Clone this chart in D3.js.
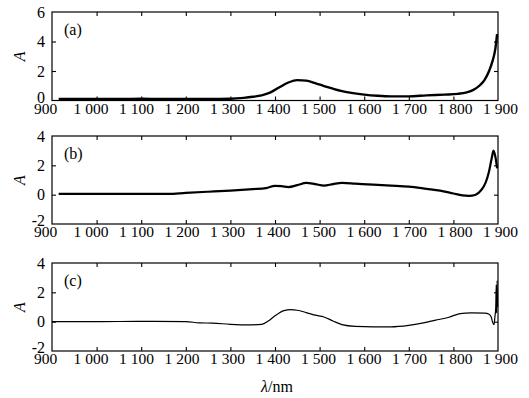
<!DOCTYPE html>
<html><head><meta charset="utf-8">
<script src="https://cdn.jsdelivr.net/npm/d3@7/dist/d3.min.js"></script>
<style>
html,body{margin:0;padding:0;background:#fff;}
svg{display:block;}
svg text{font-family:'Liberation Serif','Times New Roman','DejaVu Serif',serif !important;fill:#000;}
</style></head>
<body>
<svg id="chart" width="529" height="398"></svg>
<script>
// ---- data ----
const xTicks = [900,1000,1100,1200,1300,1400,1500,1600,1700,1800,1900];
const panelLabels = ["(a)","(b)","(c)"];
const yTicksA = [0,2,4,6];
const yTicksBC = [-2,0,2,4];

const wlA = [915,950,1000,1050,1100,1150,1200,1250,1300,1330,1350,1370,1390,1410,1430,1450,1470,1490,1510,1530,1550,1575,1600,1630,1660,1700,1740,1780,1810,1830,1845,1860,1870,1880,1888,1894,1898];
const valA = [0.1,0.1,0.1,0.1,0.12,0.1,0.1,0.1,0.12,0.18,0.25,0.35,0.55,0.9,1.22,1.38,1.35,1.18,0.98,0.8,0.64,0.5,0.4,0.32,0.28,0.28,0.35,0.4,0.45,0.55,0.72,1.05,1.4,2.0,2.7,3.5,4.5];

const wlB = [915,1000,1100,1160,1200,1250,1300,1350,1380,1400,1415,1430,1450,1470,1490,1510,1530,1550,1580,1620,1660,1700,1740,1770,1800,1820,1835,1850,1862,1872,1880,1886,1890,1894,1898];
const valB = [0.05,0.05,0.05,0.05,0.12,0.2,0.28,0.38,0.45,0.6,0.58,0.52,0.65,0.8,0.72,0.62,0.72,0.8,0.75,0.68,0.62,0.55,0.4,0.28,0.08,-0.05,-0.08,0.0,0.3,0.8,1.6,2.5,3.0,2.6,1.8];

const wlC = [900,1000,1100,1200,1230,1260,1300,1340,1370,1385,1400,1420,1435,1450,1470,1490,1510,1530,1550,1580,1620,1660,1700,1730,1760,1790,1815,1840,1870,1880,1885,1888,1891,1893,1895,1896,1897,1898,1899];
const valC = [0,0,0.02,0,-0.08,-0.1,-0.18,-0.22,-0.18,0.05,0.4,0.75,0.82,0.78,0.62,0.45,0.32,0.05,-0.2,-0.32,-0.35,-0.35,-0.25,-0.1,0.1,0.3,0.55,0.6,0.58,0.5,0.3,-0.05,-0.2,0.3,1.0,2.5,0.6,2.8,1.0];

// ---- layout ----
const svg = d3.select("#chart");
const FONT = "'Liberation Serif','Times New Roman','DejaVu Serif',serif";
const left = 52, right = 498;
const panels = [
  {top:12,  bottom:100.5, domain:[0,6],  ticks:yTicksA,  wl:wlA, val:valA, lw:2.4, label:panelLabels[0]},
  {top:136, bottom:224,   domain:[-2,4], ticks:yTicksBC, wl:wlB, val:valB, lw:2.2, label:panelLabels[1]},
  {top:263, bottom:351,   domain:[-2,4], ticks:yTicksBC, wl:wlC, val:valC, lw:1.2, label:panelLabels[2]}
];
const x = d3.scaleLinear().domain([900,1900]).range([left,right]);
const xLab = d3.scaleLinear().domain([900,1900]).range([45,500]);
const fmt = d => d >= 1000 ? "1 " + String(d).slice(1) : String(d);
const inner = xTicks.filter(t => t > 900 && t < 1900);

panels.forEach(p => {
  const y = d3.scaleLinear().domain(p.domain).range([p.bottom, p.top]);
  const g = svg.append("g");
  const innerY = p.ticks.filter(t => t > p.domain[0] && t < p.domain[1]);

  // inward ticks
  g.append("g").attr("transform",`translate(0,${p.bottom})`)
    .call(d3.axisBottom(x).tickValues(inner).tickSize(-4).tickFormat(""))
    .call(s => s.select(".domain").remove());
  g.append("g").attr("transform",`translate(0,${p.top})`)
    .call(d3.axisTop(x).tickValues(inner).tickSize(-4).tickFormat(""))
    .call(s => s.select(".domain").remove());
  g.append("g").attr("transform",`translate(${left},0)`)
    .call(d3.axisLeft(y).tickValues(innerY).tickSize(-4).tickFormat(""))
    .call(s => s.select(".domain").remove());
  g.append("g").attr("transform",`translate(${right},0)`)
    .call(d3.axisRight(y).tickValues(innerY).tickSize(-4).tickFormat(""))
    .call(s => s.select(".domain").remove());
  g.selectAll(".tick line").attr("stroke","#000").attr("stroke-width",1.1);

  // y labels
  const ya = g.append("g").attr("transform",`translate(${left},0)`)
    .call(d3.axisLeft(y).tickValues(p.ticks).tickSize(0).tickPadding(7).tickFormat(d => String(d)))
    .call(s => s.select(".domain").remove())
    .attr("font-family", FONT);
  ya.selectAll("text").attr("font-size",16).style("font-family",FONT)
    .attr("dy", d => d === p.domain[0] ? "0.1em" : "0.32em");

  // x labels
  g.append("g").attr("transform",`translate(0,${p.bottom})`)
    .call(d3.axisBottom(xLab).tickValues(xTicks).tickSize(0).tickPadding(2).tickFormat(fmt))
    .call(s => s.select(".domain").remove())
    .attr("font-family", FONT)
    .selectAll("text").attr("font-size",15.5).style("font-family",FONT);

  // frame
  g.append("rect").attr("x",left).attr("y",p.top).attr("width",right-left).attr("height",p.bottom-p.top)
    .attr("fill","none").attr("stroke","#000").attr("stroke-width",1.2);

  // curve
  const pts = p.wl.map((w,i) => [w, p.val[i]]);
  g.append("path").datum(pts)
    .attr("fill","none").attr("stroke","#000").attr("stroke-width",p.lw)
    .attr("stroke-linejoin","round")
    .attr("d", d3.line().x(d => x(d[0])).y(d => y(d[1])).curve(d3.curveMonotoneX));

  // panel label
  g.append("text").attr("x",64).attr("y",p.top+23).attr("font-size",16).style("font-family",FONT).text(p.label);

  // y axis title
  g.append("text").attr("transform",`translate(25,${(p.top+p.bottom)/2}) rotate(-90)`)
    .attr("text-anchor","middle").attr("font-size",16).attr("font-style","italic").style("font-family",FONT).text("A");
});

svg.append("text").attr("x",277).attr("y",392).attr("text-anchor","middle").attr("font-size",16)
  .style("font-family",FONT)
  .html('<tspan font-style="italic">λ</tspan>/nm');
</script>
</body></html>
